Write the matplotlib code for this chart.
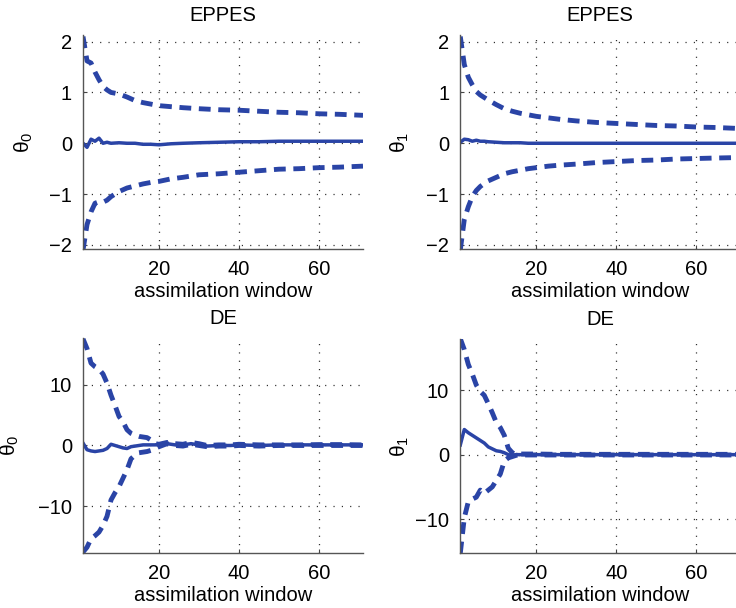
import matplotlib
matplotlib.use("Agg")
import matplotlib.pyplot as plt

plt.rcParams["font.family"] = ["Liberation Sans", "DejaVu Sans"]
plt.rcParams["font.size"] = 14.5
plt.rcParams["mathtext.fontset"] = "custom"
plt.rcParams["mathtext.rm"] = "Liberation Sans"
plt.rcParams["mathtext.default"] = "regular"
plt.rcParams["lines.scale_dashes"] = False

BLUE = "#2a44a6"

# EPPES, theta_0
x_e = [1, 2, 3, 4, 5, 6, 7, 8, 10, 12, 14, 16, 18, 20, 23, 26, 30, 35, 40, 45, 50, 55, 60, 65, 71]
e0_up = [2.1, 1.62, 1.58, 1.4, 1.25, 1.12, 1.05, 1.0, 0.97, 0.91, 0.84, 0.8, 0.77, 0.74, 0.72,
         0.7, 0.68, 0.66, 0.65, 0.63, 0.61, 0.6, 0.58, 0.57, 0.55]
e0_lo = [-2.1, -1.6, -1.35, -1.18, -1.15, -1.16, -1.12, -1.05, -0.95, -0.88, -0.84, -0.8, -0.77,
         -0.75, -0.7, -0.67, -0.62, -0.6, -0.57, -0.54, -0.51, -0.5, -0.48, -0.47, -0.45]
e0_mean = [0.0, -0.08, 0.08, 0.04, 0.1, 0.0, 0.02, 0.0, 0.01, 0.0, 0.0, -0.02, -0.02, -0.03,
           -0.01, 0.0, 0.01, 0.02, 0.03, 0.03, 0.04, 0.04, 0.04, 0.04, 0.04]

# EPPES, theta_1
e1_up = [2.1, 1.55, 1.3, 1.15, 1.02, 0.95, 0.9, 0.85, 0.76, 0.68, 0.63, 0.59, 0.56, 0.53, 0.5,
         0.47, 0.44, 0.41, 0.39, 0.37, 0.35, 0.34, 0.32, 0.31, 0.29]
e1_lo = [-2.1, -1.5, -1.25, -1.05, -0.93, -0.85, -0.79, -0.74, -0.67, -0.6, -0.56, -0.53, -0.5,
         -0.48, -0.45, -0.43, -0.41, -0.38, -0.36, -0.34, -0.33, -0.31, -0.3, -0.29, -0.28]
e1_mean = [0.02, 0.08, 0.07, 0.04, 0.06, 0.04, 0.04, 0.03, 0.02, 0.01, 0.01, 0.01, 0.0, 0.0,
           0.0, 0.0, 0.0, 0.0, 0.0, 0.0, 0.0, 0.0, 0.0, 0.0, 0.0]

# DE, theta_0
x_d0 = [1, 2, 3, 4, 5, 6, 7, 8, 9, 10, 11, 12, 13, 14, 15, 16, 17, 18, 19, 20, 22, 24, 26, 28,
        30, 32, 35, 38, 40, 45, 50, 55, 60, 65, 71]
d0_up = [17.6, 16.0, 13.6, 13.0, 12.6, 11.8, 10.3, 8.3, 6.6, 4.8, 3.9, 2.6, 2.0, 1.7, 1.5, 1.4,
         1.3, 0.9, 0.3, 0.2, 0.5, 0.3, 0.2, 0.5, 0.3, 0.0, 0.1, 0.1, 0.2, 0.1, 0.1, 0.1, 0.15,
         0.15, 0.1]
d0_lo = [-17.6, -16.8, -15.4, -14.9, -14.3, -13.2, -11.7, -9.0, -7.8, -6.8, -5.4, -4.0, -2.2,
         -1.6, -1.2, -1.1, -1.0, -0.8, -0.5, -0.2, 0.3, 0.0, -0.1, 0.2, 0.0, -0.2, -0.1, -0.1,
         0.0, -0.1, 0.0, 0.0, 0.0, 0.0, 0.0]
d0_mean = [0.4, -0.7, -0.9, -1.0, -0.9, -0.8, -0.5, 0.2, 0.0, -0.2, -0.4, -0.5, -0.2, -0.1, 0.0,
           0.1, 0.1, 0.1, 0.1, 0.2, 0.3, 0.1, 0.1, 0.3, 0.1, -0.1, 0.0, 0.0, 0.1, 0.0, 0.1, 0.1,
           0.1, 0.1, 0.1]

# DE, theta_1
x_d1 = [1, 2, 3, 4, 5, 6, 7, 8, 9, 10, 11, 12, 13, 14, 15, 16, 18, 20, 25, 30, 35, 40, 50, 60, 71]
d1_up = [18.0, 16.3, 14.0, 12.5, 10.8, 9.8, 9.2, 7.9, 6.5, 5.0, 4.2, 3.0, 1.0, 0.3, 0.0, 0.1,
         0.1, 0.1, 0.05, 0.05, 0.05, 0.05, 0.05, 0.05, 0.05]
d1_lo = [-15.3, -9.8, -7.3, -6.9, -6.6, -5.5, -6.0, -5.5, -5.0, -4.0, -3.0, -1.0, -0.5, -0.3,
         -0.1, -0.05, -0.05, -0.05, -0.05, -0.05, -0.05, -0.05, -0.05, -0.05, -0.05]
d1_mean = [1.5, 3.9, 3.4, 3.0, 2.6, 2.2, 1.8, 1.2, 0.9, 0.6, 0.5, 0.3, 0.0, -0.1, 0.0, 0.0, 0.0,
           0.0, 0.0, 0.0, 0.0, 0.0, 0.0, 0.0, 0.0]

panels = [
    # x, mean, upper, lower, title, ylabel, ylim, yticks, rect, ylabel x
    (x_e, e0_mean, e0_up, e0_lo, "EPPES", r"$\theta_0$", (-2.08, 2.13), [-2, -1, 0, 1, 2],
     [0.1128, 0.5905, 0.3804, 0.3519], -0.17),
    (x_e, e1_mean, e1_up, e1_lo, "EPPES", r"$\theta_1$", (-2.08, 2.13), [-2, -1, 0, 1, 2],
     [0.6254, 0.5905, 0.3804, 0.3519], -0.175),
    (x_d0, d0_mean, d0_up, d0_lo, "DE", r"$\theta_0$", (-17.8, 17.7), [-10, 0, 10],
     [0.1128, 0.0900, 0.3804, 0.3536], -0.222),
    (x_d1, d1_mean, d1_up, d1_lo, "DE", r"$\theta_1$", (-15.3, 17.9), [-10, 0, 10],
     [0.6254, 0.0900, 0.3804, 0.3520], -0.175),
]

fig = plt.figure(figsize=(7.36, 6.08), dpi=100)

for x, mean, up, lo, title, ylab, ylim, yticks, rect, ylx in panels:
    ax = fig.add_axes(rect)
    ax.plot(x, mean, color=BLUE, lw=2.5, solid_joinstyle="round")
    for band in (up, lo):
        ax.plot(x, band, color=BLUE, lw=3.5, dashes=[8.5, 5.5], dash_capstyle="butt")
    ax.set_xlim(1, 71)
    ax.set_ylim(*ylim)
    ax.set_xticks([20, 40, 60])
    ax.set_yticks(yticks)
    ax.grid(True, color="#222222", linestyle=(0, (0.8, 5.2)), linewidth=0.9)
    ax.spines["top"].set_visible(False)
    ax.spines["right"].set_visible(False)
    for s in ("left", "bottom"):
        ax.spines[s].set_color("#555555")
        ax.spines[s].set_linewidth(1.0)
    ax.tick_params(direction="in", length=3, width=0.8, color="#444444", pad=8)
    ax.set_title(title, fontsize=14.5, pad=10)
    ax.set_xlabel("assimilation window", labelpad=2)
    ax.set_ylabel(ylab, fontsize=15)
    ax.yaxis.set_label_coords(ylx, 0.5)

fig.savefig("out.png", dpi=100)
